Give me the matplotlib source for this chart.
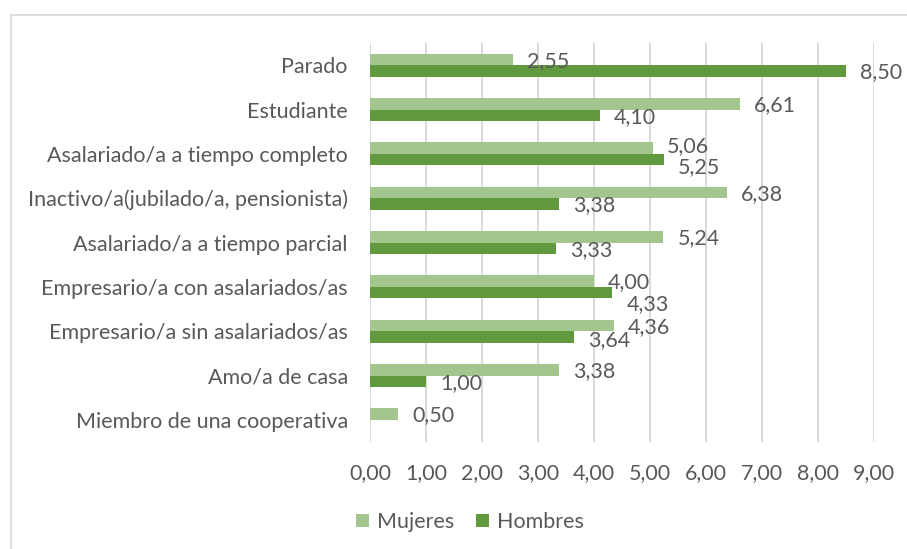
import matplotlib
matplotlib.use("Agg")
import matplotlib.pyplot as plt
import numpy as np
from matplotlib.lines import Line2D
from matplotlib.patches import Patch

categories = ["Parado", "Estudiante", "Asalariado/a a tiempo completo",
              "Inactivo/a(jubilado/a, pensionista)", "Asalariado/a a tiempo parcial",
              "Empresario/a con asalariados/as", "Empresario/a sin asalariados/as",
              "Amo/a de casa", "Miembro de una cooperativa"]
mujeres = [2.55, 6.61, 5.06, 6.38, 5.24, 4.00, 4.36, 3.38, 0.50]
hombres = [8.50, 4.10, 5.25, 3.38, 3.33, 4.33, 3.64, 1.00, np.nan]
xticks = [0, 1, 2, 3, 4, 5, 6, 7, 8, 9]
series_names = ["Mujeres", "Hombres"]

c_muj = "#A3C58E"
c_hom = "#619A3E"
txt = "#595959"
grid = "#D9D9D9"
FONT = "Lato"
FS = 15.5

W, H = 907, 549
fig = plt.figure(figsize=(W / 100, H / 100), dpi=100)
fig.patch.set_facecolor("white")

# outer frame (top and left visible)
fig.add_artist(Line2D([11 / W, 1.0], [1 - 15 / H, 1 - 15 / H], transform=fig.transFigure,
                      color=grid, lw=1.3))
fig.add_artist(Line2D([11 / W, 11 / W], [0, 1 - 15 / H], transform=fig.transFigure,
                      color=grid, lw=1.3))

ax = fig.add_axes([370 / W, 1 - 442 / H, (874 - 370) / W, (442 - 43) / H])
y = np.arange(len(categories))
bh = 0.26
ax.barh(y - bh / 2, mujeres, height=bh, color=c_muj, zorder=3)
ax.barh(y + bh / 2, hombres, height=bh, color=c_hom, zorder=3)

ax.set_xlim(0, 9)
ax.set_ylim(len(categories) - 0.5, -0.5)
ax.set_xticks(xticks)
ax.set_xticklabels([f"{v:.2f}".replace(".", ",") for v in xticks], fontsize=FS,
                   color=txt, family=FONT)
ax.set_yticks(y)
ax.set_yticklabels(categories, fontsize=FS, color=txt, family=FONT)
ax.tick_params(axis="x", length=0, pad=15)
ax.tick_params(axis="y", length=0, pad=16)
for s in ax.spines.values():
    s.set_visible(False)
ax.grid(axis="x", color=grid, lw=1.4, zorder=0)
ax.set_axisbelow(True)

# data labels (pixel nudges to avoid overlap, like the original)
nudge_m = [0, 0, -3, 0, 0, 0, 0, 0, 0]
nudge_h = [0, 0, 6, 0, 0, 10, 2, 0, 0]
for i, v in enumerate(mujeres):
    if np.isnan(v):
        continue
    ax.annotate(f"{v:.2f}".replace(".", ","), (v, i - bh / 2), xytext=(10, -1 - nudge_m[i] * 0.72),
                textcoords="offset points", va="center", ha="left", fontsize=FS,
                color=txt, family=FONT)
for i, v in enumerate(hombres):
    if np.isnan(v):
        continue
    ax.annotate(f"{v:.2f}".replace(".", ","), (v, i + bh / 2), xytext=(10, -1 - nudge_h[i] * 0.72),
                textcoords="offset points", va="center", ha="left", fontsize=FS,
                color=txt, family=FONT)

handles = [Patch(facecolor=c_muj), Patch(facecolor=c_hom)]
fig.legend(handles, series_names, loc="center", bbox_to_anchor=(470 / W, 1 - 522 / H),
           ncol=2, frameon=False, handlelength=0.6, handleheight=0.6, handletextpad=0.4,
           columnspacing=1.0, prop={"family": FONT, "size": FS}, labelcolor=txt)

fig.savefig("out.png", dpi=100, facecolor="white")
